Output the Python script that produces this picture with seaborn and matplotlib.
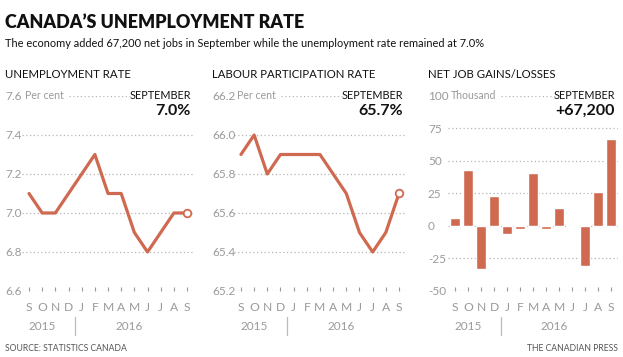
import matplotlib
matplotlib.use("Agg")
import matplotlib.pyplot as plt
import matplotlib.transforms as mtransforms
from matplotlib import font_manager
import seaborn as sns
import pandas as pd

# data
months = ["S", "O", "N", "D", "J", "F", "M", "A", "M", "J", "J", "A", "S"]
unemployment = [7.1, 7.0, 7.0, 7.1, 7.2, 7.3, 7.1, 7.1, 6.9, 6.8, 6.9, 7.0, 7.0]
participation = [65.9, 66.0, 65.8, 65.9, 65.9, 65.9, 65.9, 65.8, 65.7, 65.5, 65.4, 65.5, 65.7]
net_jobs = [6.0, 43.0, -33.0, 23.0, -6.0, -2.0, 40.5, -2.0, 14.0, -0.7, -31.0, 26.0, 67.2]
years = ["2015", "2016"]

unemp_ticks = [6.6, 6.8, 7.0, 7.2, 7.4, 7.6]
part_ticks = [65.2, 65.4, 65.6, 65.8, 66.0, 66.2]
jobs_ticks = [-50, -25, 0, 25, 50, 75, 100]

df = pd.DataFrame({"idx": range(len(months)), "month": months,
                   "unemp": unemployment, "part": participation, "jobs": net_jobs})

sns.set_theme(style="white")
names = {f.name for f in font_manager.fontManager.ttflist}
main_font = "Liberation Sans Narrow" if "Liberation Sans Narrow" in names else "Lato"
plt.rcParams["font.family"] = [main_font, "DejaVu Sans"]

ORANGE = "#cf6a50"
GRID = "#b5b5b5"
GREY = "#9a9a9a"
DARK = "#111111"

fig = plt.figure(figsize=(6.23, 3.57), dpi=100)
fig.patch.set_facecolor("white")

fig.text(0.008, 0.936, "CANADA\u2019S UNEMPLOYMENT RATE", fontsize=12.9, fontweight="heavy",
         color=DARK, va="center", ha="left")
fig.text(0.008, 0.878, "The economy added 67,200 net jobs in September while the unemployment rate remained at 7.0%",
         fontsize=7.9, color=DARK, va="center", ha="left")
fig.text(0.008, 0.025, "SOURCE: STATISTICS CANADA", fontsize=6.2, color="#555555", va="center")
fig.text(0.992, 0.025, "THE CANADIAN PRESS", fontsize=6.2, color="#555555", va="center", ha="right")

bottom, height = 0.1849, 0.5462
panels = [
    dict(rect=[0.036, bottom, 0.2748, height], col="unemp", ticks=unemp_ticks, fmt="{:.1f}",
         title="UNEMPLOYMENT RATE", unit="Per cent", value="7.0%", pad=12.5, line=(0.27, 0.63),
         title_x=0.008),
    dict(rect=[0.3762, bottom, 0.2748, height], col="part", ticks=part_ticks, fmt="{:.1f}",
         title="LABOUR PARTICIPATION RATE", unit="Per cent", value="65.7%", pad=16.1, line=(0.27, 0.63),
         title_x=0.340),
    dict(rect=[0.7199, bottom, 0.2713, height], col="jobs", ticks=jobs_ticks, fmt="{:d}",
         title="NET JOB GAINS/LOSSES", unit="Thousand", value="+67,200", pad=14.8, line=(0.31, 0.63),
         title_x=0.687),
]

for p in panels:
    ax = fig.add_axes(p["rect"])
    if p["col"] == "jobs":
        sns.barplot(data=df, x="idx", y="jobs", color=ORANGE, saturation=1, width=0.72, ax=ax)
    else:
        sns.lineplot(data=df, x="idx", y=p["col"], color=ORANGE, linewidth=2.3, ax=ax)
        last = df.iloc[-1]
        ax.scatter([last["idx"]], [last[p["col"]]], s=30, facecolor="white", edgecolor=ORANGE,
                   linewidth=1.3, zorder=5)

    ticks = p["ticks"]
    ax.set_ylim(ticks[0], ticks[-1])
    ax.set_xlim(-0.5, len(months) - 0.5)
    for t in ticks[:-1]:
        ax.axhline(t, color=GRID, linestyle=(0, (1, 2)), linewidth=0.9, zorder=0)
    ax.axhline(ticks[-1], xmin=p["line"][0], xmax=p["line"][1], color=GRID,
               linestyle=(0, (1, 2)), linewidth=0.9, zorder=0)

    ax.set_yticks(ticks)
    ax.set_yticklabels([p["fmt"].format(t) for t in ticks])
    ax.set_xticks(range(len(months)))
    ax.set_xticklabels(months)
    ax.tick_params(axis="y", length=0, pad=p["pad"], labelsize=8.5, labelcolor=GREY)
    for lab in ax.get_yticklabels():
        lab.set_horizontalalignment("left")
    ax.tick_params(axis="x", direction="in", length=3, width=0.8, color=GREY,
                   pad=8, labelsize=8.7, labelcolor=GREY)
    ax.tick_params(axis="x", bottom=True)
    ax.set_xlabel("")
    ax.set_ylabel("")
    for s in ax.spines.values():
        s.set_visible(False)
    ax.set_facecolor("none")

    # header text of each panel
    fig.text(p["title_x"], 0.79, p["title"], fontsize=8.2, color=DARK, va="center", ha="left")
    ax.text(0.015, 1.0, p["unit"], transform=ax.transAxes, fontsize=7.6, color=GREY,
            va="center", ha="left")
    ax.text(0.985, 1.0, "SEPTEMBER", transform=ax.transAxes, fontsize=7.8, color=DARK,
            va="center", ha="right")
    ax.text(0.985, 0.922, p["value"], transform=ax.transAxes, fontsize=11.5, fontweight="bold",
            color=DARK, va="center", ha="right")

    # years under the month axis
    trans = mtransforms.blended_transform_factory(ax.transData, ax.transAxes)
    ax.text(1.0, -0.18, years[0], transform=trans, fontsize=8.5, color=GREY, ha="center", va="center")
    ax.text(7.6, -0.18, years[1], transform=trans, fontsize=8.5, color=GREY, ha="center", va="center")
    ax.plot([3.5, 3.5], [-0.135, -0.225], transform=trans, color="#bbbbbb", linewidth=0.9,
            clip_on=False)

fig.savefig("out.png", dpi=100, facecolor="white")
